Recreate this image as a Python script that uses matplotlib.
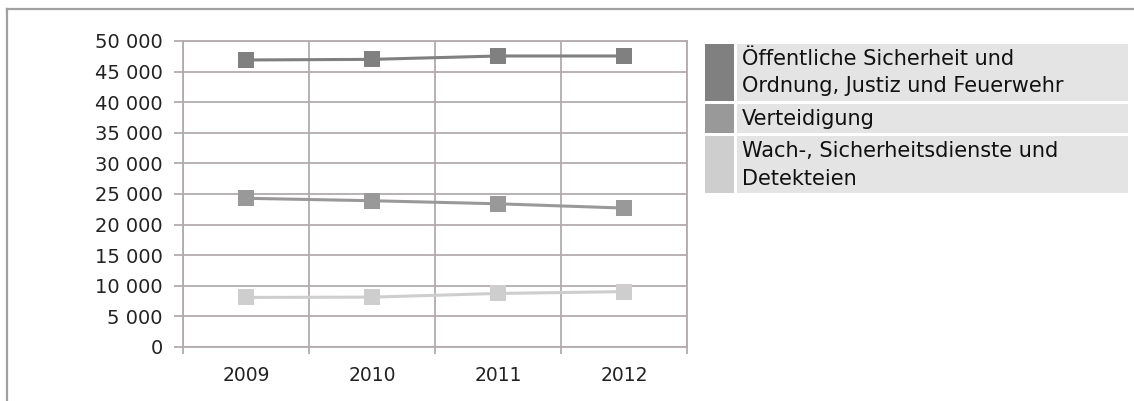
import matplotlib.pyplot as plt
from matplotlib.lines import Line2D
from matplotlib.patches import Rectangle
import numpy as np

# Data
years = ['2009', '2010', '2011', '2012']
oeffentliche = [46900, 47000, 47550, 47550]
verteidigung = [24300, 23900, 23400, 22700]
wachdienste = [8100, 8150, 8750, 9050]

series = [oeffentliche, verteidigung, wachdienste]
colors = ['#808080', '#999999', '#cecece']
legend_lines = [['Öffentliche Sicherheit und', 'Ordnung, Justiz und Feuerwehr'],
                ['Verteidigung'],
                ['Wach-, Sicherheitsdienste und', 'Detekteien']]

W, H = 1134, 401
fig = plt.figure(figsize=(W / 100, H / 100), dpi=100)
plt.rcParams['font.family'] = ['DejaVu Sans']

# plot area in pixel coords
left, right, top, bottom = 183, 687, 41, 347
ax = fig.add_axes([left / W, 1 - bottom / H, (right - left) / W, (bottom - top) / H])

grid_col = '#b3abab'
x = np.arange(len(years))
for vals, c in zip(series, colors):
    ax.plot(x, vals, color=c, linewidth=2.2, marker='s', markersize=11.5,
            markeredgewidth=0, zorder=3)

ax.set_xlim(-0.5, len(years) - 0.5)
ax.set_ylim(0, 50000)
ax.set_yticks(np.arange(0, 50001, 5000))
ax.set_yticklabels([f'{v:,}'.replace(',', ' ') for v in range(0, 50001, 5000)])
ax.set_xticks(x)
ax.set_xticklabels(years)
ax.set_xticks(np.arange(-0.5, len(years), 1.0), minor=True)

ax.grid(True, axis='y', which='major', color=grid_col, linewidth=1.3)
ax.grid(True, axis='x', which='minor', color=grid_col, linewidth=1.3)
ax.tick_params(axis='x', which='major', length=0, pad=14, labelsize=13.5,
               labelcolor='#222222')
ax.tick_params(axis='x', which='minor', length=5, width=1.3, color=grid_col)
ax.tick_params(axis='y', which='major', length=6.5, width=1.3, color=grid_col,
               pad=8, labelsize=14, labelcolor='#222222')
for s in ax.spines.values():
    s.set_color(grid_col)
    s.set_linewidth(1.3)

# outer frame (top and left only)
fig.add_artist(Line2D([7 / W, 1], [1 - 8.5 / H, 1 - 8.5 / H], color='#a0a0a0', linewidth=1.6))
fig.add_artist(Line2D([7 / W, 7 / W], [0, 1 - 8.5 / H], color='#a0a0a0', linewidth=1.6))

# legend drawn as boxes
rows = [(44, 101), (104, 133), (136, 193)]
for (y0, y1), c, lines in zip(rows, colors, legend_lines):
    fig.add_artist(Rectangle((705 / W, 1 - y1 / H), 29 / W, (y1 - y0) / H,
                             transform=fig.transFigure, color=c, linewidth=0))
    fig.add_artist(Rectangle((737 / W, 1 - y1 / H), (1128 - 737) / W, (y1 - y0) / H,
                             transform=fig.transFigure, color='#e4e4e4', linewidth=0))
    for i, t in enumerate(lines):
        base = y0 + 21 + i * 27.5
        fig.text(742 / W, 1 - base / H, t, fontsize=15, color='#111111',
                 va='baseline', ha='left')

fig.savefig('out.png', dpi=100)
